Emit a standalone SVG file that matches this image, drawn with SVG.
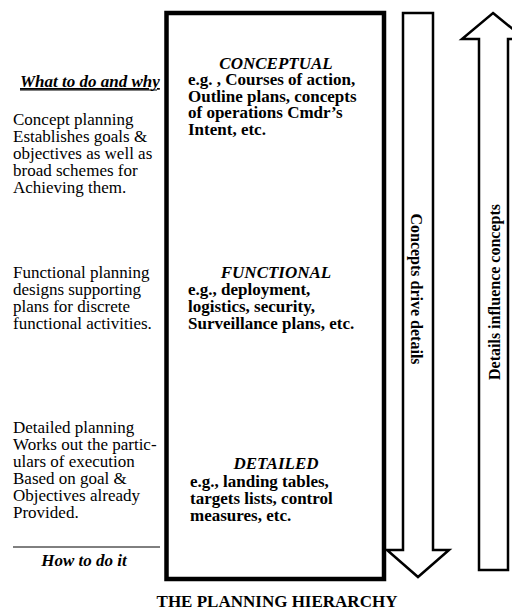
<svg xmlns="http://www.w3.org/2000/svg" width="512" height="612" viewBox="0 0 512 612">
<style>
.t{font-family:"Liberation Serif","Times New Roman",serif;font-size:17px;fill:#000}
.b{font-weight:bold}
.i{font-style:italic}
.m{text-anchor:middle}
.v{font-family:"Liberation Serif","Times New Roman",serif;font-size:16px;font-weight:bold;fill:#000;text-anchor:middle}
.ar{fill:#fff;stroke:#000;stroke-width:2.5;stroke-linejoin:miter}
</style>
<rect width="512" height="612" fill="#fff"/>
<g id="left-text">
<text class="t b i" x="20" y="87" text-decoration="underline">What to do and why</text>
<line x1="20" y1="90" x2="157" y2="90" stroke="#000" stroke-width="1.2"/>
<text class="t" x="13" y="125">Concept planning</text>
<text class="t" x="13" y="142">Establishes goals &amp;</text>
<text class="t" x="13" y="159">objectives as well as</text>
<text class="t" x="13" y="176">broad schemes for</text>
<text class="t" x="13" y="193">Achieving them.</text>
<text class="t" x="13" y="278">Functional planning</text>
<text class="t" x="13" y="295">designs supporting</text>
<text class="t" x="13" y="312">plans for discrete</text>
<text class="t" x="13" y="329">functional activities.</text>
<text class="t" x="13" y="433">Detailed planning</text>
<text class="t" x="13" y="450">Works out the partic-</text>
<text class="t" x="13" y="467">ulars of execution</text>
<text class="t" x="13" y="484">Based on goal &amp;</text>
<text class="t" x="13" y="501">Objectives already</text>
<text class="t" x="13" y="518">Provided.</text>
<line x1="13" y1="547" x2="160" y2="547" stroke="#000" stroke-width="1"/>
<text class="t b i m" x="84" y="566">How to do it</text>
</g>
<g id="hierarchy-box">
<rect x="166.5" y="13" width="217.5" height="566" fill="none" stroke="#000" stroke-width="4.5"/>
</g>
<g id="conceptual">
<text class="t b i m" x="276" y="69">CONCEPTUAL</text>
<text class="t b" x="188" y="85">e.g. , Courses of action,</text>
<text class="t b" x="188" y="102">Outline plans, concepts</text>
<text class="t b" x="188" y="118">of operations Cmdr’s</text>
<text class="t b" x="188" y="135">Intent, etc.</text>
</g>
<g id="functional">
<text class="t b i m" x="276" y="278">FUNCTIONAL</text>
<text class="t b" x="188" y="295">e.g., deployment,</text>
<text class="t b" x="188" y="312">logistics, security,</text>
<text class="t b" x="188" y="329">Surveillance plans, etc.</text>
</g>
<g id="detailed">
<text class="t b i m" x="276" y="469">DETAILED</text>
<text class="t b" x="190" y="487">e.g., landing tables,</text>
<text class="t b" x="190" y="504">targets lists, control</text>
<text class="t b" x="190" y="521">measures, etc.</text>
</g>
<g id="connectors">
<g id="down-arrow">
<polygon class="ar" points="403,13 433,13 433,550 449,550 418,577 387,550 403,550"/>
<text class="v" transform="translate(411,289) rotate(90)">Concepts drive details</text>
</g>
<g id="up-arrow">
<polygon class="ar" points="493,13 525,39 508,39 508,570 479,570 479,39 462,39"/>
<text class="v" transform="translate(500,292) rotate(-90)">Details influence concepts</text>
</g>
</g>
<text class="t b m" x="277" y="607">THE PLANNING HIERARCHY</text>
</svg>
